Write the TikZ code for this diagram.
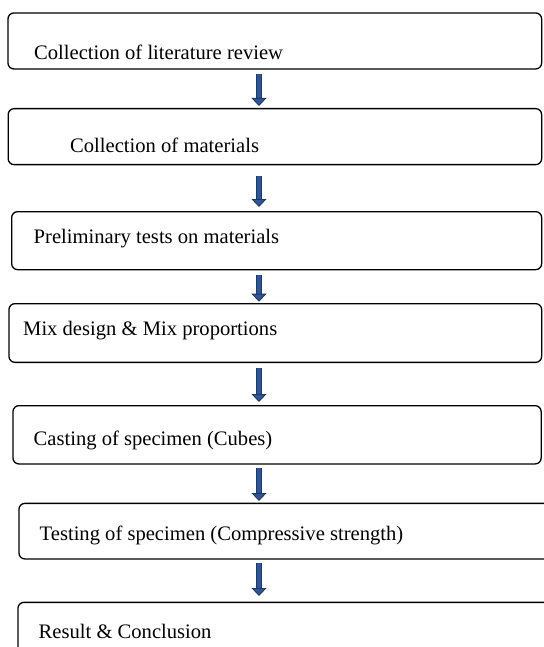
\documentclass[tikz,border=0pt]{standalone}
\usepackage{fontspec}
\setmainfont{Liberation Serif}
\usetikzlibrary{arrows.meta}

\definecolor{arrfill}{RGB}{47,85,151}
\definecolor{arrline}{RGB}{31,56,100}

\begin{document}
\begin{tikzpicture}[
  x=1pt, y=-1pt,
  font=\fontsize{20.6}{24}\selectfont,
  stage/.style={draw=black, line width=1.3pt, rounded corners=6pt,
                anchor=north west, inner sep=0pt},
  lbl/.style={anchor=base west, inner sep=0pt},
  flow/.style={arrline, line width=0.9pt, double=arrfill, double distance=4.2pt,
               -{Triangle[length=8pt, width=15pt, fill=arrfill]}}
]
\useasboundingbox (0,0) rectangle (543,647);

\node[stage, minimum width=533.7pt, minimum height=56pt]   (lit)  at (7.3,12.3)  {};
\node[stage, minimum width=533.5pt, minimum height=56pt]   (mat)  at (7.5,108)   {};
\node[stage, minimum width=530pt,   minimum height=58pt]   (pre)  at (11,211)    {};
\node[stage, minimum width=532.7pt, minimum height=58.7pt] (mix)  at (8.3,303)   {};
\node[stage, minimum width=528.2pt, minimum height=58.3pt] (cast) at (12.3,405)  {};
\node[stage, minimum width=545pt,   minimum height=55.6pt] (test) at (18.3,502.7) {};
\node[stage, minimum width=545pt,   minimum height=70pt]   (res)  at (17.3,601.7) {};

% texts sit low and to the left, as in the original
\node[lbl] (tlit)  at (34,60)    {Collection of literature review};
\node[lbl] (tmat)  at (70,153)   {Collection of materials};
\node[lbl] (tpre)  at (33.5,243) {Preliminary tests on materials};
\node[lbl] (tmix)  at (23,335)   {Mix design \& Mix proportions};
\node[lbl] (tcast) at (33.5,445) {Casting of specimen (Cubes)};
\node[lbl] (ttest) at (39.5,540) {Testing of specimen (Compressive strength)};
\node[lbl] (tres)  at (38.5,638) {Result \& Conclusion};

\coordinate (ax) at (259,0);
\draw[flow, shorten <=4.4pt, shorten >=2pt]   (ax |- lit.south)  -- (ax |- mat.north);
\draw[flow, shorten <=11pt,  shorten >=4pt]   (ax |- mat.south)  -- (ax |- pre.north);
\draw[flow, shorten <=5pt,   shorten >=1.3pt] (ax |- pre.south)  -- (ax |- mix.north);
\draw[flow, shorten <=5.3pt, shorten >=3pt]   (ax |- mix.south)  -- (ax |- cast.north);
\draw[flow, shorten <=3.7pt, shorten >=1.7pt] (ax |- cast.south) -- (ax |- test.north);
\draw[flow, shorten <=3.7pt, shorten >=5.7pt] (ax |- test.south) -- (ax |- res.north);
\end{tikzpicture}
\end{document}
